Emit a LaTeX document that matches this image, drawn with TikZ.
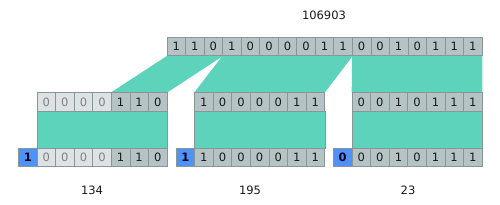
\documentclass[tikz,border=0pt]{standalone}
\usepackage{fontspec}
\setmainfont{DejaVu Sans}
\usetikzlibrary{backgrounds}
\definecolor{cellgray}{HTML}{B5C3C5}
\definecolor{celllight}{HTML}{DDE3E4}
\definecolor{edgegray}{HTML}{8A9597}
\definecolor{tealfill}{HTML}{5DD3BB}
\definecolor{bluefill}{HTML}{4F92F7}
\definecolor{textdark}{HTML}{1A1A1A}
\begin{document}
\begin{tikzpicture}[x=1pt,y=-1pt,
  cell/.style={draw=edgegray, line width=0.6pt, fill=cellgray, minimum width=18.55pt, minimum height=18.5pt, inner sep=0pt, anchor=west, font=\fontsize{11.5}{13}\selectfont, text=textdark},
  padcell/.style={cell, fill=celllight, text=black!50},
  signcell/.style={cell, fill=bluefill, font=\fontsize{11.5}{13}\selectfont\bfseries, text=black!90!blue},
  label/.style={font=\fontsize{11.5}{13}\selectfont, text=textdark},
  band/.style={fill=tealfill},
  bandbox/.style={fill=tealfill, draw=edgegray, line width=0.4pt}]
\useasboundingbox (0,0) rectangle (500,204);
% top row
\foreach \b [count=\i from 0] in {1,1,0,1,0,0,0,0,1,1,0,0,1,0,1,1,1}
  \node[cell] (t\i) at ({166.7+18.53*\i},46.5) {\b};
% middle rows
\foreach \b [count=\i from 0] in {0,0,0,0,1,1,0}{
  \ifnum\i<4 \node[padcell] (a\i) at ({36.7+18.57*\i},102) {\b};
  \else \node[cell] (a\i) at ({36.7+18.57*\i},102) {\b}; \fi}
\foreach \b [count=\i from 0] in {1,0,0,0,0,1,1}
  \node[cell] (b\i) at ({194.3+18.57*\i},102) {\b};
\foreach \b [count=\i from 0] in {0,0,1,0,1,1,1}
  \node[cell] (c\i) at ({351.7+18.57*\i},102) {\b};
% bottom rows
\node[signcell] (pa) at (18.2,157.5) {1};
\foreach \b [count=\i from 0] in {0,0,0,0,1,1,0}{
  \ifnum\i<4 \node[padcell] (ba\i) at ({36.7+18.57*\i},157.5) {\b};
  \else \node[cell] (ba\i) at ({36.7+18.57*\i},157.5) {\b}; \fi}
\node[signcell] (pb) at (175.7,157.5) {1};
\foreach \b [count=\i from 0] in {1,0,0,0,0,1,1}
  \node[cell] (bb\i) at ({194.3+18.57*\i},157.5) {\b};
\node[signcell] (pc) at (333.1,157.5) {0};
\foreach \b [count=\i from 0] in {0,0,1,0,1,1,1}
  \node[cell] (bc\i) at ({351.7+18.57*\i},157.5) {\b};
% bands
\begin{scope}[on background layer]
  \fill[band] (t0.south west) -- (t2.south east) -- (a6.north east) -- (a4.north west) -- cycle;
  \fill[band] (t3.south west) -- (t9.south east) -- (b6.north east) -- (b0.north west) -- cycle;
  \fill[band] (t10.south west) -- (t16.south east) -- (c6.north east) -- (c0.north west) -- cycle;
  \filldraw[bandbox] (a0.south west) -- (a6.south east) -- (ba6.north east) -- (ba0.north west) -- cycle;
  \filldraw[bandbox] (b0.south west) -- (b6.south east) -- (bb6.north east) -- (bb0.north west) -- cycle;
  \filldraw[bandbox] (c0.south west) -- (c6.south east) -- (bc6.north east) -- (bc0.north west) -- cycle;
\end{scope}
% labels
\node[label] (total) at (324,15) {106903};
\node[label] (va) at (92,190) {134};
\node[label] (vb) at (250,190) {195};
\node[label] (vc) at (408,190) {23};
\end{tikzpicture}
\end{document}
